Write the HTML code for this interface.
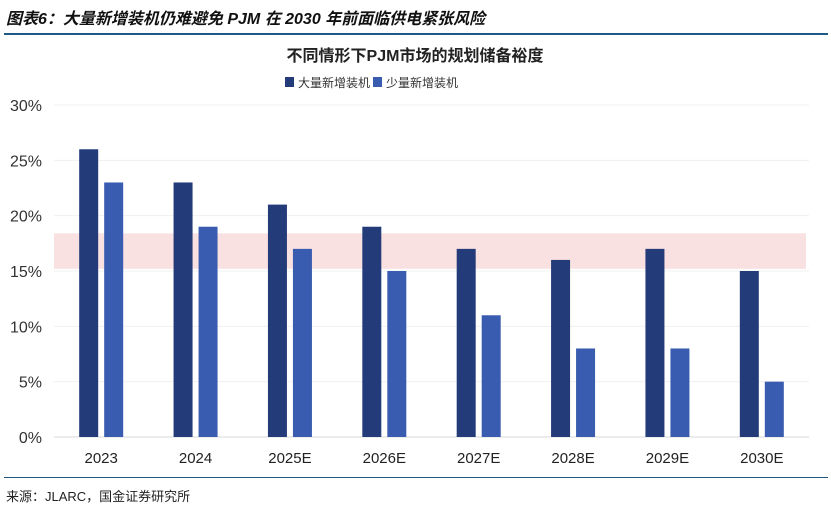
<!DOCTYPE html>
<html><head><meta charset="utf-8"><style>
body{margin:0;background:#fff;font-family:"Liberation Sans","Noto Sans CJK SC",sans-serif;}
#wrap{position:relative;width:831px;height:508px;overflow:hidden;}
</style></head><body>
<div id="wrap">
<div style="position:absolute;left:6px;top:5px;font-size:16px;font-weight:bold;font-style:italic;color:#111;white-space:nowrap;">图表6：大量新增装机仍难避免 PJM 在 2030 年前面临供电紧张风险</div>
<div style="position:absolute;left:4px;top:33px;width:824px;height:2px;background:#1f5a85;"></div>
<div style="position:absolute;left:4px;top:477px;width:824px;height:1px;background:#1f5a85;"></div>
<div style="position:absolute;left:6px;top:486px;font-size:13px;color:#222;white-space:nowrap;">来源：JLARC，国金证券研究所</div>
<svg id="chart" width="831" height="508" style="position:absolute;left:0;top:0;">
<text x="415" y="61" text-anchor="middle" font-size="16" font-weight="bold" fill="#222" font-family="Liberation Sans, Noto Sans CJK SC, sans-serif">不同情形下PJM市场的规划储备裕度</text>
<g>
<rect x="285" y="77" width="9" height="10" fill="#243b7a"/>
<text x="298" y="87" font-size="12" fill="#333" font-family="Liberation Sans, Noto Sans CJK SC, sans-serif">大量新增装机</text>
<rect x="373" y="77" width="9" height="10" fill="#3a5cb0"/>
<text x="386" y="87" font-size="12" fill="#333" font-family="Liberation Sans, Noto Sans CJK SC, sans-serif">少量新增装机</text>
</g>
<g id="plot"></g>
</svg>
</div>
<script>
const categories=["2023","2024","2025E","2026E","2027E","2028E","2029E","2030E"];
const highSeries=[26,23,21,19,17,16,17,15];
const lowSeries=[23,19,17,15,11,8,8,5];
const yTicks=[0,5,10,15,20,25,30];
const bandRange=[15.2,18.4];
const x0=54,x1=809,yBase=437,yTop=105,yMax=30;
const ns="http://www.w3.org/2000/svg";
const g=document.getElementById('plot');
function y(v){return yBase-(v/yMax)*(yBase-yTop);}
function xc(i){return x0+(i+0.5)*(x1-x0)/categories.length;}
function mk(t,a){const e=document.createElementNS(ns,t);for(const k in a)e.setAttribute(k,a[k]);g.appendChild(e);return e;}
yTicks.forEach(v=>{
 const l=mk('line',{x1:x0,x2:x1,y1:y(v),y2:y(v),stroke:v===0?'#d9d9d9':'#f0f0f0','stroke-width':1});
 
 
 const t=mk('text',{x:42,y:y(v)+6,'text-anchor':'end','font-size':16,fill:'#333','font-family':'Liberation Sans, sans-serif'});
 t.textContent=v+'%';
 
 
});
const band=mk('rect',{x:x0,y:y(bandRange[1]),width:x1-x0-3,height:y(bandRange[0])-y(bandRange[1]),fill:'#f4c9c9','fill-opacity':0.55});


categories.forEach((c,i)=>{
 const cx=xc(i);
 const b1=mk('rect',{x:cx-22,y:y(highSeries[i]),width:19,height:yBase-y(highSeries[i]),fill:'#243b7a'});
 
 
 const b2=mk('rect',{x:cx+3,y:y(lowSeries[i]),width:19,height:yBase-y(lowSeries[i]),fill:'#3a5cb0'});
 
 
 const t=mk('text',{x:cx,y:463,'text-anchor':'middle','font-size':15,fill:'#222','font-family':'Liberation Sans, sans-serif'});
 t.textContent=c;
 
 
});
</script>
</body></html>
